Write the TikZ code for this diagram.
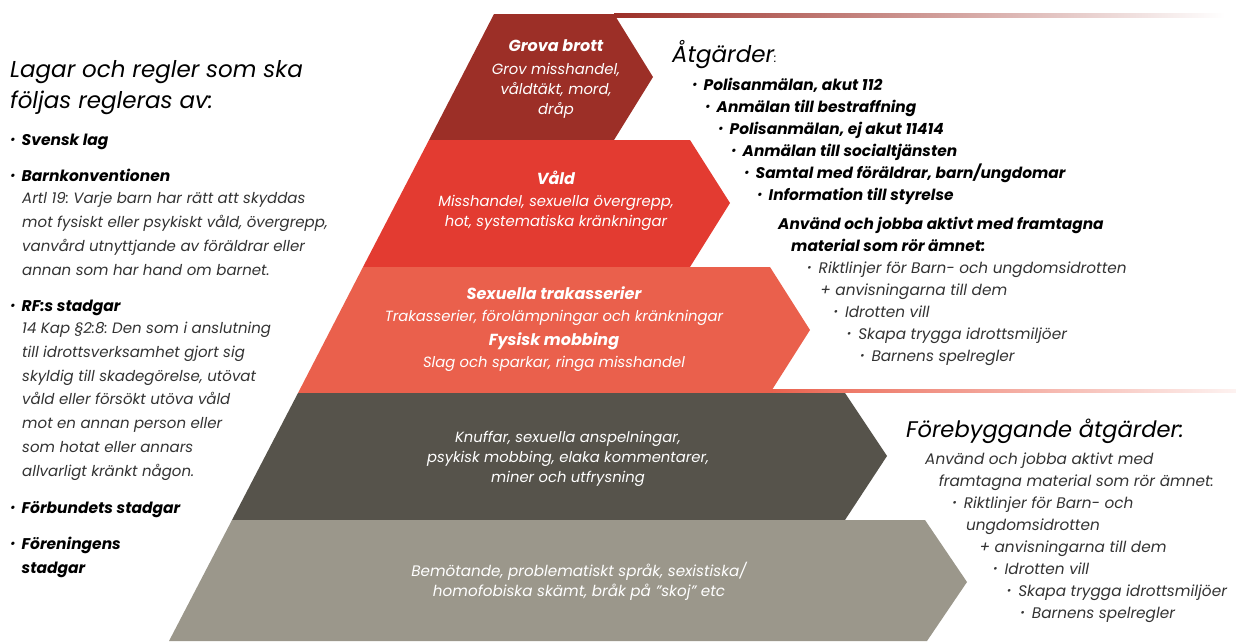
\documentclass[tikz,border=0pt]{standalone}
\usepackage{fontspec}
\setmainfont{Poppins}
\frenchspacing

\definecolor{brott}{HTML}{9C2F27}
\definecolor{vald}{HTML}{E33B31}
\definecolor{trakas}{HTML}{EA604C}
\definecolor{knuff}{HTML}{56534B}
\definecolor{bemot}{HTML}{9B978B}
\definecolor{txtgray}{HTML}{333333}

\newcommand{\pkt}{\makebox[11.5pt][l]{\raisebox{1.7pt}{\fontsize{11}{11}\selectfont•}}}

\begin{document}
\begin{tikzpicture}[x = 1pt, y = -1pt,
    bandtxt/.style = {text=white, align=center, inner sep=0pt, font=\fontsize{14.8}{20}\selectfont\itshape},
    lefthead/.style = {anchor=base west, inner sep=0pt, align=left, font=\fontsize{23}{31}\selectfont\itshape},
    leftbold/.style = {anchor=base west, inner sep=0pt, align=left, font=\fontsize{15.5}{24}\selectfont\bfseries\itshape},
    lefttxt/.style = {anchor=base west, inner sep=0pt, align=left, text=txtgray, font=\fontsize{15}{23.7}\selectfont\itshape},
    acttxt/.style = {anchor=base west, inner sep=0pt, font=\fontsize{15.4}{22}\selectfont\bfseries\itshape},
    mattxt/.style = {anchor=base west, inner sep=0pt, text=txtgray, font=\fontsize{15.3}{22}\selectfont\itshape}]
    \useasboundingbox (0,0) rectangle (1236,641);

    % pyramid bands, top to bottom
    \fill[brott]  (494,14) -- (614,14) -- (653,77) -- (614,140) -- (429,140) -- cycle;
    \fill[vald]   (429,140) -- (690,140) -- (730,203) -- (690,267) -- (363,267) -- cycle;
    \fill[trakas] (363,267) -- (770,267) -- (810,330) -- (770,393) -- (298,393) -- cycle;
    \fill[knuff]  (298,393) -- (845,393) -- (887,456) -- (845,520) -- (232,520) -- cycle;
    \fill[bemot]  (232,520) -- (925,520) -- (967,582) -- (927,641) -- (169,641) -- cycle;

    % fading rules
    \shade[left color=brott, right color=white] (614,13) rectangle (1225,17);
    \shade[left color=trakas, right color=trakas!8] (768,389) rectangle (1236,392);

    % band texts
    \node[bandtxt] (grova) at (556,79) {{\bfseries\fontsize{16}{20}\selectfont Grova brott}\\[3pt]
        Grov misshandel,\\ våldtäkt, mord,\\ dråp};
    \node[bandtxt] (vald) at (556,201) {{\bfseries\fontsize{16}{20}\selectfont Våld}\\[2pt]
        Misshandel, sexuella övergrepp,\\ hot, systematiska kränkningar};
    \node[bandtxt] (trakas) at (554,329) {{\bfseries\fontsize{16}{20}\selectfont Sexuella trakasserier}\\[2pt]
        Trakasserier, förolämpningar och kränkningar\\[4pt]
        {\bfseries\fontsize{16}{20}\selectfont Fysisk mobbing}\\[2pt]
        Slag och sparkar, ringa misshandel};
    \node[bandtxt] (knuff) at (568,459) {Knuffar, sexuella anspelningar,\\
        psykisk mobbing, elaka kommentarer,\\ miner och utfrysning};
    \node[bandtxt, font=\fontsize{15.2}{20}\selectfont\itshape] (bemot) at (579,581)
        {Bemötande, problematiskt språk, sexistiska/\\
        homofobiska skämt, bråk på ”skoj” etc};

    % left column (base = last line)
    \node[lefthead] (lagar) at (10,108) {Lagar och regler som ska\\ följas regleras av:};
    \node[leftbold] (svensk) at (10,145) {\pkt Svensk lag};
    \node[leftbold] (barnk) at (10,181) {\pkt Barnkonventionen};
    \node[lefttxt] (artl) at (22,275) {Artl 19: Varje barn har rätt att skyddas\\
        mot fysiskt eller psykiskt våld, övergrepp,\\
        vanvård utnyttjande av föräldrar eller\\
        annan som har hand om barnet.};
    \node[leftbold] (rfs) at (10,311) {\pkt RF:s stadgar};
    \node[lefttxt] (kap) at (22,476) {14 Kap §2:8: Den som i anslutning\\
        till idrottsverksamhet gjort sig\\
        skyldig till skadegörelse, utövat\\
        våld eller försökt utöva våld\\
        mot en annan person eller\\
        som hotat eller annars\\
        allvarligt kränkt någon.};
    \node[leftbold] (forb) at (10,513) {\pkt Förbundets stadgar};
    \node[leftbold] (foren) at (10,573) {\pkt Föreningens\\ \phantom{\pkt}stadgar};

    % right column, upper
    \node[anchor=base west, inner sep=0pt, font=\fontsize{23}{28}\selectfont\itshape] (atg) at (672,62)
        {Åtgärder{\fontsize{12}{12}\selectfont:}};
    \foreach \t [count=\i from 0] in {{Polisanmälan, akut 112}, {Anmälan till bestraffning},
        {Polisanmälan, ej akut 11414}, {Anmälan till socialtjänsten},
        {Samtal med föräldrar, barn/ungdomar}, {Information till styrelse}}
        \node[acttxt] (act\i) at (692+13*\i, 90+22*\i) {\pkt\t};
    \node[acttxt] (anv1) at (778,229) {Använd och jobba aktivt med framtagna};
    \node[acttxt] (anv2) at (791,251) {material som rör ämnet:};
    \foreach \t [count=\i from 0] in {{\pkt Riktlinjer för Barn- och ungdomsidrotten},
        {+ anvisningarna till dem}, {\pkt Idrotten vill}, {\pkt Skapa trygga idrottsmiljöer},
        {\pkt Barnens spelregler}}
        \node[mattxt] (mat\i) at (807+13.2*\i, 273+22*\i) {\t};

    % right column, lower
    \node[anchor=base west, inner sep=0pt, font=\fontsize{22.6}{28}\selectfont\itshape] (foreb) at (906,437)
        {Förebyggande åtgärder:};
    \foreach \t [count=\i from 0] in {{Använd och jobba aktivt med},
        {framtagna material som rör ämnet:}, {\pkt Riktlinjer för Barn- och},
        {ungdomsidrotten}, {+ anvisningarna till dem}, {\pkt Idrotten vill},
        {\pkt Skapa trygga idrottsmiljöer}, {\pkt Barnens spelregler}}
        \node[mattxt] (prev\i) at (925+13.6*\i, 464+22*\i) {\t};
\end{tikzpicture}
\end{document}
